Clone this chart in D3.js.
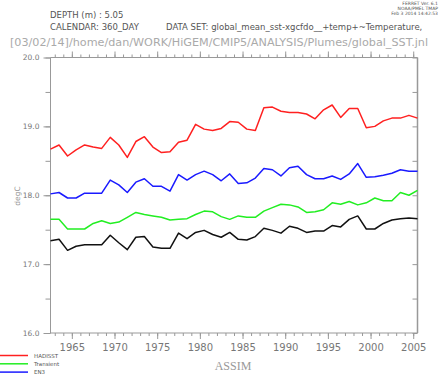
<!DOCTYPE html>
<html><head><meta charset="utf-8">
<script src="https://cdn.jsdelivr.net/npm/d3@7"></script>
<style>body{margin:0;background:#fff}svg{display:block}</style>
</head><body>
<svg id="c" width="441" height="375"></svg>
<script>
const years = d3.range(1962.5, 2006, 1);
const hadisst = [18.67,18.73,18.57,18.66,18.73,18.70,18.68,18.84,18.73,18.55,18.78,18.85,18.70,18.62,18.63,18.77,18.80,19.03,18.96,18.94,18.97,19.07,19.06,18.96,18.94,19.27,19.28,19.22,19.20,19.20,19.18,19.11,19.24,19.31,19.13,19.26,19.26,18.98,19.00,19.08,19.12,19.12,19.16,19.12];
const en3 = [18.02,18.04,17.96,17.96,18.03,18.03,18.03,18.22,18.15,18.04,18.19,18.24,18.13,18.13,18.06,18.30,18.22,18.30,18.35,18.30,18.21,18.31,18.17,18.18,18.25,18.39,18.37,18.28,18.40,18.42,18.30,18.24,18.24,18.28,18.23,18.31,18.46,18.26,18.27,18.29,18.32,18.37,18.35,18.35];
const transient = [17.65,17.65,17.51,17.51,17.51,17.59,17.63,17.59,17.61,17.68,17.75,17.72,17.70,17.68,17.64,17.65,17.66,17.72,17.77,17.76,17.69,17.65,17.70,17.68,17.68,17.77,17.82,17.87,17.86,17.83,17.75,17.76,17.79,17.89,17.87,17.91,17.86,17.89,17.96,17.92,17.92,18.04,18.00,18.07];
const assim = [17.34,17.36,17.20,17.26,17.28,17.28,17.28,17.42,17.31,17.21,17.39,17.40,17.25,17.23,17.23,17.45,17.37,17.46,17.49,17.43,17.39,17.46,17.36,17.35,17.40,17.52,17.49,17.45,17.55,17.52,17.46,17.48,17.48,17.56,17.54,17.65,17.70,17.51,17.51,17.59,17.64,17.66,17.67,17.66];
const seriesNames = ["HADISST","Transient","EN3"];
const xTickYears = [1965,1970,1975,1980,1985,1990,1995,2000,2005];
const yTicks = [16.0,17.0,18.0,19.0,20.0];

const svg = d3.select("#c");
const L = 50.5, R = 417.5, T = 57.5, B = 333;
const x = d3.scaleLinear().domain([1962.5, 2005.5]).range([L, R]);
const y = d3.scaleLinear().domain([16, 20]).range([B, T]);
const axisCol = "#999", txtCol = "#777";

// header text
const hdr = svg.append("g").attr("font-family","DejaVu Sans, sans-serif").attr("fill","#555");
hdr.append("text").attr("x",50).attr("y",18).attr("font-size",8.5).text("DEPTH (m) : 5.05");
hdr.append("text").attr("x",50).attr("y",30).attr("font-size",8.5).text("CALENDAR: 360_DAY");
hdr.append("text").attr("x",166).attr("y",30).attr("font-size",8.5).text("DATA SET: global_mean_sst-xgcfdo__+temp+~Temperature,");
svg.append("text").attr("x",10).attr("y",46).attr("font-family","DejaVu Sans, sans-serif").attr("font-size",11.2).attr("fill","#aaa")
  .text("[03/02/14]/home/dan/WORK/HiGEM/CMIP5/ANALYSIS/Plumes/global_SST.jnl");
const fr = svg.append("g").attr("font-family","DejaVu Sans, sans-serif").attr("font-size",4.5).attr("fill","#555").attr("text-anchor","end");
fr.append("text").attr("x",438).attr("y",5).text("FERRET Ver. 6.1");
fr.append("text").attr("x",438).attr("y",10).text("NOAA/PMEL TMAP");
fr.append("text").attr("x",438).attr("y",15).text("Feb  3 2014 14:42:53");

// axes
const minorX = d3.range(1963, 2006, 1);
const minorY = d3.range(16, 20.01, 0.5);
const axB = d3.axisBottom(x).tickValues(minorX).tickSize(3).tickFormat("");
const axT = d3.axisTop(x).tickValues(minorX).tickSize(3).tickFormat("");
const axL = d3.axisLeft(y).tickValues(minorY).tickSize(5).tickFormat("");
const axR = d3.axisLeft(y).tickValues(minorY).tickSize(5).tickFormat("");
function style(g){ g.selectAll("path,line").attr("stroke",axisCol); g.select(".domain").attr("stroke",axisCol); }
svg.append("g").attr("transform",`translate(0,${B})`).call(axB).call(style)
  .call(g=>g.select(".domain").attr("d",`M${L},0H${R}`));
svg.append("g").attr("transform",`translate(0,${T})`).call(axT).call(style)
  .call(g=>g.select(".domain").attr("d",`M${L},0H${R}`));
svg.append("g").attr("transform",`translate(${L},0)`).call(axL).call(style)
  .call(g=>g.select(".domain").attr("d",`M0,${T}V${B}`));
svg.append("g").attr("transform",`translate(${R},0)`).call(axR).call(style)
  .call(g=>g.select(".domain").attr("d",`M0,${T}V${B}`).attr("stroke-width",1.5));
// major ticks
svg.append("g").attr("transform",`translate(0,${B})`)
  .call(d3.axisBottom(x).tickValues(xTickYears).tickSize(6).tickSizeOuter(0).tickPadding(5).tickFormat(d3.format("d")))
  .call(g=>{g.select(".domain").remove(); g.selectAll("line").attr("stroke",axisCol);
    g.selectAll("text").attr("fill",txtCol).attr("font-size",10).attr("font-family","DejaVu Sans, sans-serif");});
svg.append("g").attr("transform",`translate(0,${T})`)
  .call(d3.axisTop(x).tickValues(xTickYears).tickSize(6).tickFormat(""))
  .call(g=>{g.select(".domain").remove(); g.selectAll("line").attr("stroke",axisCol);});
svg.append("g").attr("transform",`translate(${L},0)`)
  .call(d3.axisLeft(y).tickValues(yTicks).tickSize(7).tickPadding(4).tickFormat(d3.format(".1f")))
  .call(g=>{g.select(".domain").remove(); g.selectAll("line").attr("stroke",axisCol);
    g.selectAll("text").attr("fill",txtCol).attr("font-size",7.5).attr("font-family","DejaVu Sans, sans-serif");});

svg.append("text").attr("transform","translate(20,196) rotate(-90)").attr("text-anchor","middle")
  .attr("font-family","DejaVu Sans, sans-serif").attr("font-size",7.5).attr("fill","#999").text("degC");
svg.append("text").attr("x",233).attr("y",370).attr("text-anchor","middle")
  .attr("font-family","Liberation Serif, serif").attr("font-size",12).attr("fill","#999").text("ASSIM");

// lines
const line = d3.line().x((d,i)=>x(years[i])).y(d=>y(d));
const data = [[hadisst,"#ff2020"],[transient,"#22ee22"],[en3,"#1a1aff"],[assim,"#111"]];
data.forEach(([v,c])=>svg.append("path").attr("d",line(v)).attr("fill","none").attr("stroke",c).attr("stroke-width",1.5).attr("stroke-linejoin","round"));

// legend
const legCols = ["#ff2020","#22ee22","#1a1aff"];
const lg = svg.append("g");
seriesNames.forEach((n,i)=>{
  const yy = 355.5 + i*8.3;
  lg.append("line").attr("x1",0).attr("x2",28).attr("y1",yy).attr("y2",yy).attr("stroke",legCols[i]).attr("stroke-width",1.5);
  lg.append("text").attr("x",34).attr("y",yy+2).attr("font-family","DejaVu Sans, sans-serif").attr("font-size",5.5).attr("fill","#555").text(n);
});
</script>
</body></html>
